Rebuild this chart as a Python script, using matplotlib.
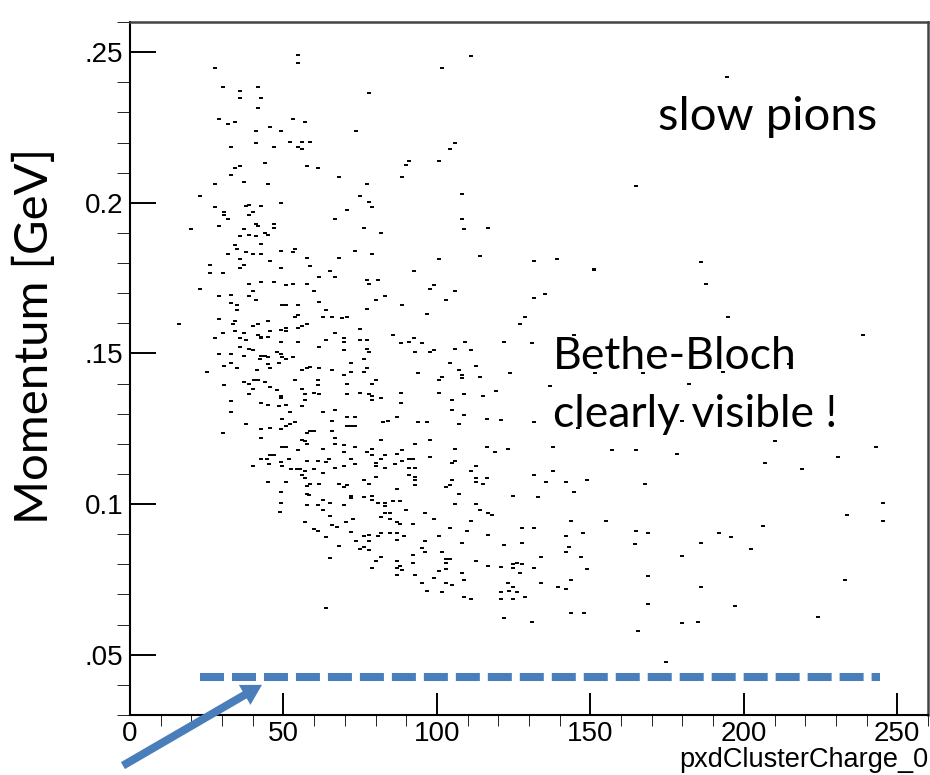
import numpy as np
import matplotlib
matplotlib.use("Agg")
import matplotlib.pyplot as plt

# pxdClusterCharge_0 vs momentum
charge = [
    27.7, 54.8, 54.8, 30.2, 35.8, 35.8, 41.7, 42.8, 41.7, 29.1, 31.9, 34.2, 41.2, 45.6, 49.1, 53.1,
    57.1, 73.7, 33.0, 41.2, 46.8, 52.0, 54.8, 56.0, 56.0, 58.8, 44.0, 34.2, 35.9, 57.7, 61.1, 33.0,
    27.8, 37.0, 45.1, 68.0, 22.7, 74.8, 27.8, 37.7, 38.8, 42.8, 49.1, 30.7, 40.0, 30.7, 38.8, 31.9,
    41.2, 41.7, 46.8, 46.8, 29.1, 70.8, 66.9, 19.9, 37.0, 35.9, 38.8, 41.2, 44.0, 45.1, 42.8, 34.2,
    34.7, 37.7, 40.0, 42.8, 31.9, 49.1, 53.1, 53.6, 73.2, 57.7, 68.0, 35.9, 37.0, 26.2, 45.6, 35.9,
    49.1, 58.8,
    111.1, 101.8, 77.9, 105.9, 104.1, 91.0, 89.8, 100.8, 88.7, 77.3, 164.9, 77.9, 78.9, 108.1, 108.1,
    108.7, 116.7, 76.1, 81.9, 78.9, 100.8, 113.9, 131.7, 139.1, 151.1, 194.4, 186.2,
    26.2, 30.2, 65.1, 66.9, 61.7, 38.8, 42.8, 46.8, 50.8, 53.1, 57.7, 22.7, 40.0, 60.0, 29.1, 33.0,
    38.8, 41.2, 33.0, 34.7, 34.7, 49.6, 50.8, 54.8, 61.7, 64.0, 53.6, 54.8, 62.9, 65.7, 69.2, 70.8,
    16.0, 29.1, 34.2, 33.7, 45.1, 40.0, 41.7, 57.7, 56.0, 54.8, 49.1, 50.8, 50.8, 45.6, 42.8, 41.7,
    37.0, 34.2, 30.2, 27.8, 35.9, 37.7, 42.8, 45.1, 49.1, 54.8, 61.7, 64.0, 66.9, 69.7, 69.7, 74.8,
    74.8, 69.7, 35.9, 38.8, 40.0, 33.0, 29.1, 37.0, 42.8, 44.0, 45.1, 42.2, 48.0, 49.1, 49.6, 50.8,
    53.1, 48.5, 33.0, 30.7, 34.7, 45.1, 45.6, 41.5, 25.1, 57.7, 58.8, 55.9, 61.7, 65.7, 72.0, 69.7,
    72.0, 37.0, 38.8, 40.5, 41.7, 44.0, 40.0, 38.8, 45.6, 48.0, 30.7, 53.6, 55.9, 61.1, 61.1, 59.9,
    61.7, 57.1, 57.1, 70.8, 70.8, 74.8, 49.1, 49.1, 50.8, 48.5, 33.0, 33.0, 42.8, 45.1, 55.9, 52.1,
    62.9, 66.9, 65.7, 70.8, 73.2, 73.2, 72.0, 70.8, 53.6, 52.1, 50.8, 49.6, 49.1, 45.6, 42.8, 37.7,
    30.2, 42.8, 55.9, 57.1, 58.8, 59.9, 57.7, 57.7, 54.8, 49.6, 50.8, 69.7, 66.9, 66.9, 69.7, 73.2,
    65.7, 62.9, 42.8, 44.5, 45.6, 46.8, 45.3, 40.0, 49.1, 49.6, 51.9, 57.7, 61.2, 64.0, 64.7, 66.9,
    69.7, 72.0, 73.2, 55.4, 57.1, 59.9, 62.9, 54.3, 52.4, 55.9, 57.1, 50.8, 45.1, 58.8, 61.7, 57.7,
    68.0, 69.7, 70.8, 49.1, 57.7, 58.2, 72.0,
    92.6, 77.2, 77.9, 80.7, 97.9, 99.0, 105.9, 103.0, 80.1, 83.0, 88.7, 77.2, 96.7, 131.7, 135.1,
    151.1, 128.8, 127.1, 85.8, 92.6, 91.0, 88.2, 95.0, 77.2, 77.2, 77.9, 92.7, 97.9, 99.0, 105.9,
    109.2, 111.1, 121.9, 131.1, 144.7, 76.1, 77.2, 76.1, 104.1, 107.1, 108.1, 108.1, 112.8, 113.9,
    101.8, 100.8, 93.8, 123.7, 151.6, 136.8, 78.9, 80.1, 77.9, 78.9, 78.9, 81.9, 88.2, 88.2, 100.8,
    104.8, 108.8, 115.1, 119.1, 104.8, 108.8, 107.1, 116.2, 120.8, 131.7, 145.9, 82.5, 84.1, 87.0,
    93.8, 96.7, 81.9, 92.7, 97.9, 105.9, 116.2, 119.0, 123.0, 137.9, 156.9, 164.9, 77.2, 78.9, 78.9,
    80.1, 80.1, 83.0, 81.9, 86.3, 83.0, 86.9, 88.7, 88.7, 91.0, 92.2, 91.0, 92.7, 91.0, 92.7, 92.7,
    92.7, 97.9, 104.8, 105.9, 111.1, 112.8, 112.8, 112.8, 116.2, 115.1, 104.8, 103.0, 104.1, 86.9,
    80.1, 77.9, 76.1, 131.7, 135.6, 137.9, 141.9, 148.9, 144.7, 107.2, 124.8, 132.8, 78.9, 76.1,
    187.8, 194.7, 238.9, 167.2, 182.2, 193.1, 214.8, 179.7, 210.2, 206.8, 218.8, 230.8, 242.9, 178.1,
    167.8,
    49.1, 49.0, 57.7, 62.9, 65.1, 61.1, 62.9, 69.7, 72.0, 57.1, 59.9, 61.1, 65.1, 65.7, 67.4, 70.3,
    72.5, 72.0, 73.7, 64.0, 68.0, 65.1, 64.0, 74.8,
    78.9, 85.8, 88.1, 83.0, 83.0, 80.7, 84.7, 83.0, 81.9, 84.7, 86.9, 88.1, 89.8, 92.1, 96.1, 99.0,
    105.9, 112.7, 113.9, 116.7, 117.9, 111.0, 104.1, 109.8, 116.7, 108.1, 100.8, 96.1, 89.2, 86.9,
    86.9, 84.7, 81.9, 80.7, 77.9, 77.9, 76.1, 76.1, 77.9, 81.9, 80.1, 78.9, 86.9, 86.9, 88.1, 88.7,
    86.9, 92.1, 92.1, 95.0, 96.1, 92.7, 95.0, 96.7, 99.0, 100.8, 101.8, 103.0, 103.0, 104.2, 103.0,
    103.0, 104.8, 101.8, 108.1, 108.7, 108.7, 111.0, 112.7, 116.7, 120.8, 121.9, 124.8, 126.0, 127.6,
    124.8, 127.0, 131.6, 133.8, 127.6, 127.6, 131.6, 123.0, 124.8, 123.6, 120.8, 126.0, 124.8, 120.8,
    128.7, 121.9, 131.0, 133.8, 139.6, 141.9, 143.7, 143.7, 147.9, 147.0, 148.8, 141.9, 143.1, 141.9,
    147.6, 143.7, 155.1, 164.9, 164.5, 165.5,
    168.9, 168.9, 168.9, 174.6, 179.7, 179.7, 184.9, 186.1, 186.1, 191.9, 195.9, 197.1, 202.2, 206.2,
    224.0, 233.1, 233.7, 245.2, 245.2,
]
momentum = [
    0.2447, 0.2489, 0.2465, 0.2383, 0.2372, 0.2348, 0.2383, 0.2348, 0.2313, 0.2279, 0.2261, 0.2267,
    0.2238, 0.2250, 0.2238, 0.2279, 0.2267, 0.2238, 0.2185, 0.2197, 0.2185, 0.2203, 0.2185, 0.2179,
    0.2203, 0.2203, 0.2132, 0.2116, 0.2121, 0.2121, 0.2116, 0.2091, 0.2063, 0.2068, 0.2063, 0.2086,
    0.2022, 0.2022, 0.1986, 0.1988, 0.1992, 0.1988, 0.1999, 0.1969, 0.1969, 0.1958, 0.1958, 0.1946,
    0.1928, 0.1924, 0.1928, 0.1916, 0.1924, 0.1976, 0.1946, 0.1912, 0.1912, 0.1889, 0.1893, 0.1889,
    0.1900, 0.1893, 0.1864, 0.1859, 0.1847, 0.1836, 0.1829, 0.1829, 0.1829, 0.1841, 0.1836, 0.1847,
    0.1841, 0.1818, 0.1818, 0.1813, 0.1795, 0.1795, 0.1807, 0.1784, 0.1784, 0.1789,
    0.2488, 0.2447, 0.2366, 0.2197, 0.2179, 0.2139, 0.2127, 0.2139, 0.2086, 0.2063, 0.2057, 0.2004,
    0.1987, 0.2029, 0.1946, 0.1912, 0.1917, 0.1917, 0.1900, 0.1829, 0.1813, 0.1824, 0.1807, 0.1813,
    0.1781, 0.2417, 0.1803,
    0.1766, 0.1766, 0.1772, 0.1754, 0.1754, 0.1731, 0.1737, 0.1737, 0.1726, 0.1731, 0.1731, 0.1713,
    0.1708, 0.1708, 0.1690, 0.1695, 0.1690, 0.1678, 0.1667, 0.1660, 0.1644, 0.1660, 0.1660, 0.1660,
    0.1672, 0.1644, 0.1620, 0.1626, 0.1620, 0.1620, 0.1618, 0.1620, 0.1598, 0.1614, 0.1606, 0.1597,
    0.1609, 0.1592, 0.1597, 0.1597, 0.1592, 0.1586, 0.1578, 0.1586, 0.1574, 0.1574, 0.1556, 0.1560,
    0.1568, 0.1574, 0.1568, 0.1550, 0.1550, 0.1545, 0.1550, 0.1556, 0.1539, 0.1539, 0.1522, 0.1545,
    0.1568, 0.1550, 0.1539, 0.1580, 0.1545, 0.1510, 0.1522, 0.1516, 0.1510, 0.1499, 0.1499, 0.1493,
    0.1493, 0.1493, 0.1487, 0.1482, 0.1504, 0.1499, 0.1487, 0.1482, 0.1487, 0.1469, 0.1469, 0.1457,
    0.1451, 0.1464, 0.1451, 0.1445, 0.1440, 0.1451, 0.1455, 0.1445, 0.1451, 0.1445, 0.1469, 0.1428,
    0.1440, 0.1405, 0.1399, 0.1411, 0.1411, 0.1405, 0.1382, 0.1364, 0.1388, 0.1380, 0.1394, 0.1411,
    0.1382, 0.1411, 0.1394, 0.1370, 0.1364, 0.1364, 0.1347, 0.1400, 0.1364, 0.1370, 0.1352, 0.1359,
    0.1329, 0.1324, 0.1341, 0.1306, 0.1335, 0.1329, 0.1324, 0.1306, 0.1306, 0.1311, 0.1276, 0.1288,
    0.1288, 0.1259, 0.1259, 0.1259, 0.1271, 0.1265, 0.1259, 0.1283, 0.1248, 0.1254, 0.1248, 0.1265,
    0.1236, 0.1219, 0.1213, 0.1208, 0.1242, 0.1242, 0.1236, 0.1201, 0.1178, 0.1190, 0.1190, 0.1172,
    0.1219, 0.1201, 0.1196, 0.1190, 0.1242, 0.1184, 0.1151, 0.1151, 0.1162, 0.1162, 0.1134, 0.1126,
    0.1139, 0.1126, 0.1150, 0.1144, 0.1144, 0.1140, 0.1150, 0.1121, 0.1126, 0.1150, 0.1133, 0.1115,
    0.1109, 0.1118, 0.1103, 0.1115, 0.1115, 0.1098, 0.1086, 0.1073, 0.1073, 0.1068, 0.1068, 0.1061,
    0.1068, 0.1056, 0.1062, 0.1039, 0.1034, 0.1029, 0.1027,
    0.1772, 0.1743, 0.1731, 0.1743, 0.1715, 0.1726, 0.1708, 0.1678, 0.1678, 0.1690, 0.1661, 0.1649,
    0.1632, 0.1685, 0.1697, 0.1777, 0.1620, 0.1597, 0.1562, 0.1550, 0.1539, 0.1534, 0.1534, 0.1545,
    0.1516, 0.1504, 0.1504, 0.1504, 0.1510, 0.1516, 0.1539, 0.1510, 0.1539, 0.1534, 0.1562, 0.1482,
    0.1453, 0.1440, 0.1469, 0.1445, 0.1428, 0.1417, 0.1457, 0.1422, 0.1422, 0.1411, 0.1434, 0.1434,
    0.1434, 0.1393, 0.1400, 0.1411, 0.1364, 0.1359, 0.1347, 0.1352, 0.1370, 0.1335, 0.1370, 0.1347,
    0.1364, 0.1359, 0.1376, 0.1311, 0.1295, 0.1265, 0.1281, 0.1279, 0.1271, 0.1254, 0.1271, 0.1276,
    0.1288, 0.1271, 0.1271, 0.1212, 0.1201, 0.1212, 0.1184, 0.1190, 0.1172, 0.1184, 0.1190, 0.1178,
    0.1178, 0.1172, 0.1184, 0.1162, 0.1138, 0.1126, 0.1162, 0.1150, 0.1132, 0.1121, 0.1167, 0.1178,
    0.1144, 0.1150, 0.1150, 0.1121, 0.1121, 0.1096, 0.1091, 0.1080, 0.1062, 0.1156, 0.1138, 0.1144,
    0.1109, 0.1126, 0.1086, 0.1073, 0.1086, 0.1068, 0.1080, 0.1056, 0.1062, 0.1051, 0.1091, 0.1068,
    0.1080, 0.1096, 0.1073, 0.1109, 0.1073, 0.1080, 0.1039, 0.1033, 0.1027, 0.1022, 0.1027, 0.1025,
    0.1731, 0.1620, 0.1562, 0.1434, 0.1400, 0.1440, 0.1464, 0.1277, 0.1208, 0.1138, 0.1115, 0.1155,
    0.1190, 0.1167, 0.1068,
    0.1004, 0.0975, 0.0998, 0.1015, 0.1004, 0.0998, 0.0980, 0.0998, 0.1021, 0.0941, 0.0918, 0.0912,
    0.0962, 0.0929, 0.0924, 0.0941, 0.0952, 0.0907, 0.0878, 0.0890, 0.0860, 0.0822, 0.0655, 0.0851,
    0.1015, 0.1010, 0.1010, 0.1003, 0.0992, 0.1003, 0.0969, 0.0969, 0.0958, 0.0952, 0.0940, 0.0934,
    0.0980, 0.0934, 0.0969, 0.0952, 0.0999, 0.0999, 0.0980, 0.0972, 0.0963, 0.0945, 0.0921, 0.0910,
    0.0898, 0.0870, 0.0893, 0.0876, 0.0893, 0.0905, 0.0881, 0.0905, 0.0905, 0.0893, 0.0899, 0.0876,
    0.0893, 0.0857, 0.0846, 0.0823, 0.0812, 0.0788, 0.0812, 0.0788, 0.0795, 0.0780, 0.0765, 0.0830,
    0.0806, 0.0853, 0.0842, 0.0765, 0.0739, 0.0713, 0.0754, 0.0777, 0.0842, 0.0818, 0.0806, 0.0818,
    0.0784, 0.0737, 0.0731, 0.0708, 0.0771, 0.0748, 0.0691, 0.0684, 0.0812, 0.0793, 0.0790, 0.0864,
    0.0800, 0.0806, 0.0800, 0.0788, 0.0771, 0.0788, 0.0823, 0.0870, 0.0921, 0.0921, 0.0737, 0.0726,
    0.0713, 0.0708, 0.0708, 0.0684, 0.0684, 0.0691, 0.0621, 0.0609, 0.0737, 0.0726, 0.0719, 0.0748,
    0.0638, 0.0640, 0.0823, 0.0784, 0.0842, 0.0857, 0.0893, 0.0905, 0.0945, 0.0945, 0.0912, 0.0868,
    0.0578,
    0.0903, 0.0760, 0.0668, 0.0475, 0.0829, 0.0604, 0.0609, 0.0870, 0.0725, 0.0903, 0.0891, 0.0663,
    0.0852, 0.0928, 0.0626, 0.0748, 0.0963, 0.1004, 0.0945,
]

x_ticks = [0, 50, 100, 150, 200, 250]
y_ticks = [0.05, 0.10, 0.15, 0.20, 0.25]
y_ticklabels = [".05", "0.1", ".15", "0.2", ".25"]

# dashed momentum threshold and the arrow pointing to it
cut_momentum = 0.0426
cut_charge = [22.8, 244.3]
arrow_tip = (43.0, 0.0400)
arrow_tail = (-2.3, 0.0132)
blue = "#4a7ebb"

fig = plt.figure(figsize=(9.3, 7.75), dpi=100)
ax = fig.add_axes([130 / 930, 60 / 775, 798 / 930, 693 / 775])

ax.plot(charge, momentum, linestyle="none", marker="_", ms=3, mew=1.4, color="black")

ax.set_xlim(0, 260)
ax.set_ylim(0.03, 0.26)
ax.set_xticks(x_ticks)
ax.set_xticks(np.arange(0, 261, 10), minor=True)
ax.set_yticks(y_ticks)
ax.set_yticklabels(y_ticklabels)
ax.set_yticks([i / 100 for i in range(3, 27)], minor=True)

for lab in ax.get_xticklabels() + ax.get_yticklabels():
    lab.set_fontfamily("Liberation Sans")
ax.tick_params(direction="in", labelsize=20, width=1.4, top=False, right=False)
ax.tick_params(axis="x", which="major", length=15.8, pad=4)
ax.tick_params(axis="x", which="minor", length=8)
ax.tick_params(axis="y", which="major", length=18.7, pad=5)
ax.tick_params(axis="y", which="minor", length=9.4)
for s in ["left", "bottom"]:
    ax.spines[s].set_linewidth(1.5)
for s in ["top", "right"]:
    ax.spines[s].set_linewidth(1.8)
    ax.spines[s].set_color("#444444")

ax.plot(cut_charge, [cut_momentum, cut_momentum], color=blue, lw=5.8,
        linestyle=(0, (2.98, 0.99)), dash_capstyle="butt")
ax.annotate("", xy=arrow_tip, xytext=arrow_tail, annotation_clip=False,
            arrowprops=dict(arrowstyle="simple,head_length=0.6,head_width=0.69,tail_width=0.24",
                            mutation_scale=24, color=blue, lw=0, shrinkA=0, shrinkB=0))

fig.text(658 / 930, 645 / 775, "slow pions", fontsize=34, family="Lato", va="baseline")
fig.text(553 / 930, 406 / 775, "Bethe-Bloch", fontsize=32, family="Lato", va="baseline")
fig.text(553 / 930, 348 / 775, "clearly visible !", fontsize=32, family="Lato", va="baseline")
fig.text(34 / 930, 439 / 775, "Momentum [GeV]", fontsize=34, family="Lato", rotation=90,
         ha="center", va="center")
fig.text(928 / 930, 8 / 775, "pxdClusterCharge_0", fontsize=19.5, family="Liberation Sans",
         ha="right", va="baseline")

fig.savefig("out.png", dpi=100)
